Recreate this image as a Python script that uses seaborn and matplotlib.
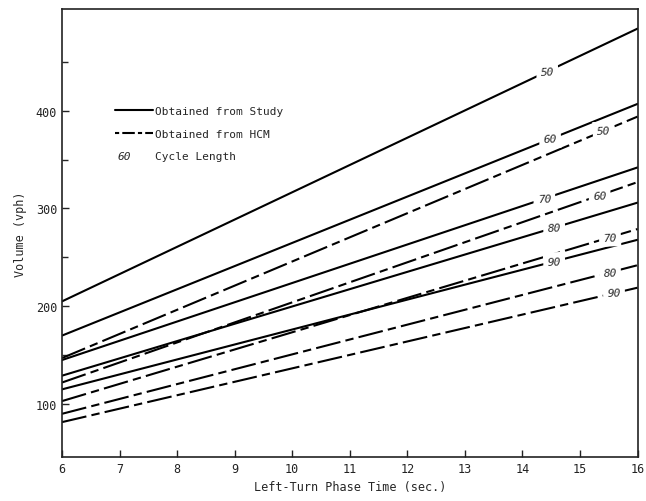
import numpy as np
import pandas as pd
import matplotlib.pyplot as plt
import seaborn as sns
from matplotlib.lines import Line2D

sns.set_style("ticks")
plt.rcParams['font.family'] = ['DejaVu Sans Mono']

# data (volume at 6 s and 16 s)
phase_time = [6, 16]
cycles = [50, 60, 70, 80, 90]
study_start = [205, 170, 145, 129, 115]
study_end = [484, 407, 342, 306, 268]
hcm_start = [147, 122, 103, 90, 81.5]
hcm_end = [394, 327, 279, 242, 219]

rows = []
for source, starts, ends in [('Study', study_start, study_end), ('HCM', hcm_start, hcm_end)]:
    for c, s, e in zip(cycles, starts, ends):
        rows.append({'source': source, 'cycle': c, 'key': source + str(c), 'time': phase_time[0], 'volume': s})
        rows.append({'source': source, 'cycle': c, 'key': source + str(c), 'time': phase_time[1], 'volume': e})
df = pd.DataFrame(rows)

fig, ax = plt.subplots(figsize=(6.46, 5.02), dpi=100)
fig.subplots_adjust(left=0.096, right=0.987, top=0.98, bottom=0.088)

hcm_dash = (12, 2.5, 4, 2.5)
sns.lineplot(data=df, x='time', y='volume', units='key', estimator=None,
             style='source', dashes={'Study': '', 'HCM': hcm_dash},
             color='black', lw=1.5, legend=False, ax=ax)

ax.set_xlim(6, 16)
ax.set_ylim(46, 504)
ax.set_xticks(range(6, 17))
ax.set_yticks([100, 200, 300, 400])
ax.set_yticks([150, 250, 350, 450], minor=True)
ax.tick_params(direction='in', length=5, width=1, labelsize=8.5, colors='#222222')
ax.tick_params(which='minor', direction='in', length=4, width=1)
for sp in ax.spines.values():
    sp.set_linewidth(1.2)
    sp.set_color('#222222')

ax.set_xlabel('Left-Turn Phase Time (sec.)', fontsize=8.5, labelpad=4)
ax.set_ylabel('Volume (vph)', fontsize=8.5, labelpad=6)

# cycle length labels sitting in gaps of the lines
study_lx = [14.43, 14.48, 14.38, 14.55, 14.55]
hcm_lx = [15.41, 15.34, 15.52, 15.52, 15.59]
for starts, ends, lxs in [(study_start, study_end, study_lx), (hcm_start, hcm_end, hcm_lx)]:
    for c, s, e, lx in zip(cycles, starts, ends, lxs):
        ly = np.interp(lx, phase_time, [s, e])
        ang = np.degrees(np.arctan((e - s) / (phase_time[1] - phase_time[0])))
        ax.text(lx, ly, str(c), fontsize=8, style='italic', ha='center', va='center',
                rotation=ang * 0.8, transform_rotates_text=True, rotation_mode='anchor',
                bbox=dict(facecolor='white', edgecolor='none', pad=3))

handles = [Line2D([], [], color='black', lw=1.5),
           Line2D([], [], color='black', lw=1.5, dashes=(2, 1.5, 6, 1.5)),
           Line2D([], [], linestyle='none')]
ax.legend(handles=handles, labels=['Obtained from Study', 'Obtained from HCM', 'Cycle Length'],
          loc='upper left', bbox_to_anchor=(0.075, 0.805), frameon=False, fontsize=8,
          handlelength=3.4, handletextpad=0.15, labelspacing=1.1)
ax.text(0.097, 0.672, '60', transform=ax.transAxes, fontsize=8, style='italic', va='center')

plt.savefig('out.png', dpi=100)
